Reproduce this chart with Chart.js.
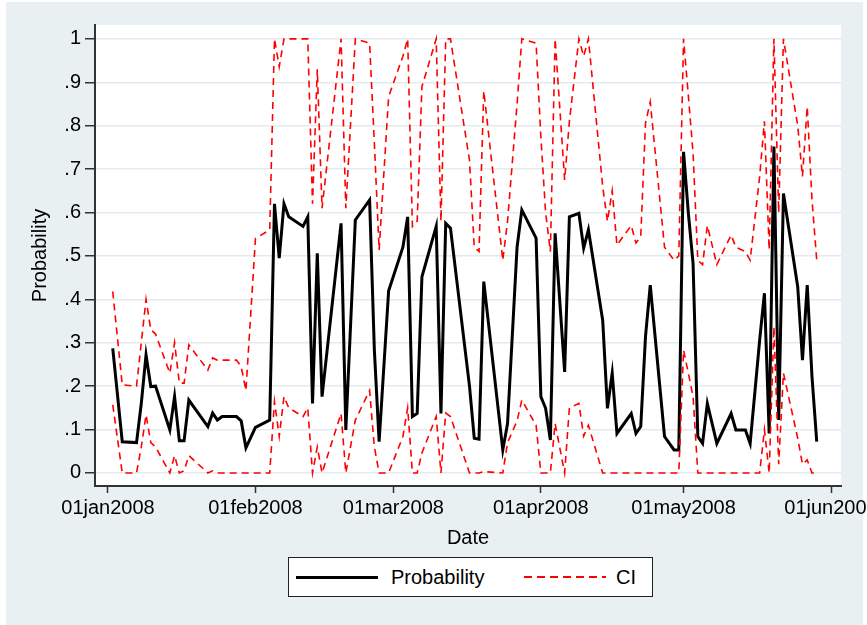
<!DOCTYPE html>
<html lang="en">
<head>
  <meta charset="UTF-8">
  <title>Probability and CI</title>
  <script src="https://cdn.jsdelivr.net/npm/chart.js@4"></script>
  <style>
    html, body { margin: 0; padding: 0; background: #fff; overflow: hidden; width: 867px; height: 625px; }
    #marco { position: absolute; left: 6px; top: 2px; width: 857px; height: 623px; background: #e8f0f2; }
    #grafico { position: absolute; left: 0; top: 0; }
    .leyenda {
      position: absolute; left: 288px; top: 557px; width: 363px; height: 38px;
      border: 1px solid #222; background: #fff;
      font-family: 'Liberation Sans', Arial, sans-serif; font-size: 20px; line-height: 38px; color: #000;
    }
    .muestra { position: absolute; top: 18px; width: 82px; }
    .negra { left: 7px; height: 3px; background: #000; }
    .roja { left: 235px; height: 2px; background: repeating-linear-gradient(to right, #f00 0 8px, transparent 8px 13px); }
    .txt { position: absolute; top: 0; }
  </style>
</head>
<body>
  <div id="marco"></div>
  <canvas id="grafico" width="920" height="625"></canvas>
  <div class="leyenda">
    <span class="muestra negra"></span><span class="txt" style="left:102px">Probability</span>
    <span class="muestra roja"></span><span class="txt" style="left:327px">CI</span>
  </div>

  <script>
    // observation dates
    const fechas = [
      '2008-01-02','2008-01-04','2008-01-07','2008-01-08','2008-01-09','2008-01-10','2008-01-11',
      '2008-01-14','2008-01-15','2008-01-16','2008-01-17','2008-01-18','2008-01-22','2008-01-23',
      '2008-01-24','2008-01-25','2008-01-28','2008-01-29','2008-01-30','2008-02-01','2008-02-04',
      '2008-02-05','2008-02-06','2008-02-07','2008-02-08','2008-02-11','2008-02-12','2008-02-13',
      '2008-02-14','2008-02-15','2008-02-19','2008-02-20','2008-02-22','2008-02-25','2008-02-26',
      '2008-02-27','2008-02-29','2008-03-03','2008-03-04','2008-03-05','2008-03-06','2008-03-07',
      '2008-03-10','2008-03-11','2008-03-12','2008-03-13','2008-03-17','2008-03-18','2008-03-19',
      '2008-03-20','2008-03-24','2008-03-25','2008-03-27','2008-03-28','2008-03-31','2008-04-01',
      '2008-04-02','2008-04-03','2008-04-04','2008-04-06','2008-04-07','2008-04-09','2008-04-10',
      '2008-04-11','2008-04-14','2008-04-15','2008-04-16','2008-04-17','2008-04-20','2008-04-21',
      '2008-04-22','2008-04-23','2008-04-24','2008-04-27','2008-04-29','2008-04-30','2008-05-01',
      '2008-05-02','2008-05-03','2008-05-04','2008-05-05','2008-05-06','2008-05-08','2008-05-11',
      '2008-05-12','2008-05-14','2008-05-15','2008-05-17','2008-05-18','2008-05-19','2008-05-20',
      '2008-05-21','2008-05-22','2008-05-25','2008-05-26','2008-05-27','2008-05-28','2008-05-29'
    ];
    const probabilidad = [
      0.287,0.072,0.070,0.160,0.272,0.199,0.200,
      0.099,0.176,0.074,0.074,0.168,0.107,0.138,
      0.122,0.130,0.130,0.120,0.058,0.105,0.122,
      0.620,0.495,0.620,0.590,0.568,0.590,0.160,
      0.506,0.176,0.575,0.099,0.583,0.629,0.283,
      0.072,0.420,0.520,0.590,0.130,0.137,0.452,
      0.568,0.137,0.575,0.564,0.200,0.080,0.078,
      0.441,0.053,0.114,0.520,0.606,0.541,0.176,
      0.149,0.076,0.552,0.233,0.590,0.598,0.518,
      0.560,0.352,0.149,0.230,0.091,0.137,0.091,
      0.107,0.314,0.433,0.084,0.053,0.053,0.740,
      0.600,0.483,0.084,0.068,0.160,0.068,0.137,
      0.099,0.099,0.068,0.306,0.414,0.091,0.752,
      0.122,0.644,0.429,0.260,0.433,0.222,0.072
    ];
    const ciSuperior = [
      0.418,0.203,0.200,0.300,0.400,0.330,0.320,
      0.230,0.300,0.207,0.207,0.295,0.237,0.265,
      0.260,0.260,0.260,0.245,0.190,0.540,0.560,
      1.000,0.936,1.000,1.000,1.000,1.000,0.620,
      0.930,0.610,1.000,0.610,1.000,0.990,0.760,
      0.514,0.867,0.960,1.000,0.568,0.580,0.890,
      1.000,0.580,1.000,1.000,0.720,0.520,0.510,
      0.880,0.490,0.580,0.850,1.000,0.990,0.775,
      0.600,0.510,1.000,0.675,0.810,1.000,0.960,
      1.000,0.660,0.580,0.650,0.525,0.570,0.530,
      0.545,0.806,0.855,0.520,0.490,0.500,1.000,
      0.870,0.737,0.490,0.480,0.570,0.480,0.548,
      0.520,0.510,0.490,0.683,0.810,0.514,1.000,
      0.600,1.000,0.800,0.683,0.844,0.630,0.490
    ];
    const ciInferior = [
      0.157,0.000,0.000,0.060,0.134,0.070,0.060,
      0.000,0.040,0.000,0.005,0.040,0.000,0.005,
      0.000,0.000,0.000,0.000,0.000,0.000,0.000,
      0.165,0.084,0.176,0.150,0.130,0.150,0.000,
      0.060,0.000,0.137,0.000,0.122,0.190,0.060,
      0.000,0.000,0.084,0.150,0.000,0.000,0.046,
      0.130,0.000,0.138,0.130,0.000,0.000,0.000,
      0.003,0.000,0.070,0.120,0.168,0.110,0.000,
      0.000,0.000,0.114,0.000,0.150,0.160,0.085,
      0.110,0.000,0.000,0.000,0.000,0.000,0.000,
      0.000,0.000,0.000,0.000,0.000,0.000,0.283,
      0.230,0.176,0.000,0.000,0.000,0.000,0.000,
      0.000,0.000,0.000,0.000,0.100,0.000,0.337,
      0.020,0.230,0.080,0.020,0.030,0.000,0.000
    ];

    // axis ticks
    const fechasEje = ['2008-01-01','2008-02-01','2008-03-01','2008-04-01','2008-05-01','2008-06-01'];
    const etiquetasX = ['01jan2008','01feb2008','01mar2008','01apr2008','01may2008','01jun2008'];
    const valoresY = [0, 0.1, 0.2, 0.3, 0.4, 0.5, 0.6, 0.7, 0.8, 0.9, 1];
    const etiquetasY = ['0','.1','.2','.3','.4','.5','.6','.7','.8','.9','1'];

    const DIA0 = Date.UTC(2008, 0, 1);
    const aDia = s => (Date.parse(s + 'T00:00:00Z') - DIA0) / 864e5;
    const puntos = serie => fechas.map((f, i) => ({ x: aDia(f), y: serie[i] }));

    Chart.defaults.font.family = "'Liberation Sans', Arial, sans-serif";
    Chart.defaults.font.size = 20;
    Chart.defaults.color = '#000';

    const fondoBlanco = {
      id: 'fondoBlanco',
      beforeDraw(chart) {
        const a = chart.chartArea, c = chart.ctx;
        c.save();
        c.fillStyle = '#fff';
        c.fillRect(a.left, a.top, a.right - a.left, a.bottom - a.top);
        c.restore();
      }
    };

    const ci = (data) => ({
      label: 'CI', data, borderColor: '#ff0000', borderWidth: 1.6,
      borderDash: [7, 5], pointRadius: 0, tension: 0, order: 1
    });

    new Chart(document.getElementById('grafico'), {
      type: 'line',
      data: {
        datasets: [
          { label: 'Probability', data: puntos(probabilidad), borderColor: '#000', borderWidth: 3,
            pointRadius: 0, tension: 0, order: 2 },
          ci(puntos(ciSuperior)),
          ci(puntos(ciInferior))
        ]
      },
      options: {
        responsive: false,
        animation: false,
        devicePixelRatio: 1,
        layout: { padding: { top: 25, right: 79, bottom: 75, left: 0 } },
        plugins: { legend: { display: false }, tooltip: { enabled: false } },
        scales: {
          x: {
            type: 'linear', min: -2.73, max: 154.1,
            afterBuildTicks: s => { s.ticks = fechasEje.map(f => ({ value: aDia(f) })); },
            afterFit: s => { s.height = 64; },
            ticks: { autoSkip: false, maxRotation: 0, padding: 3, callback: (v, i) => etiquetasX[i] },
            grid: { drawOnChartArea: false, tickLength: 7, tickColor: '#333', tickWidth: 1.5 },
            border: { color: '#333', width: 2 },
            title: { display: true, text: 'Date', padding: { top: 0, bottom: 0 } }
          },
          y: {
            min: -0.03, max: 1.032,
            afterBuildTicks: s => { s.ticks = valoresY.map(v => ({ value: v })); },
            afterFit: s => { s.width = 95; },
            ticks: { padding: 4, callback: (v, i) => etiquetasY[i] },
            grid: { color: '#e2ebee', lineWidth: 1.5, tickColor: '#333', tickLength: 10, tickWidth: 1.5 },
            border: { color: '#333', width: 2 },
            title: { display: true, text: 'Probability', padding: { top: 28, bottom: 0 } }
          }
        }
      },
      plugins: [fondoBlanco]
    });
  </script>
</body>
</html>
